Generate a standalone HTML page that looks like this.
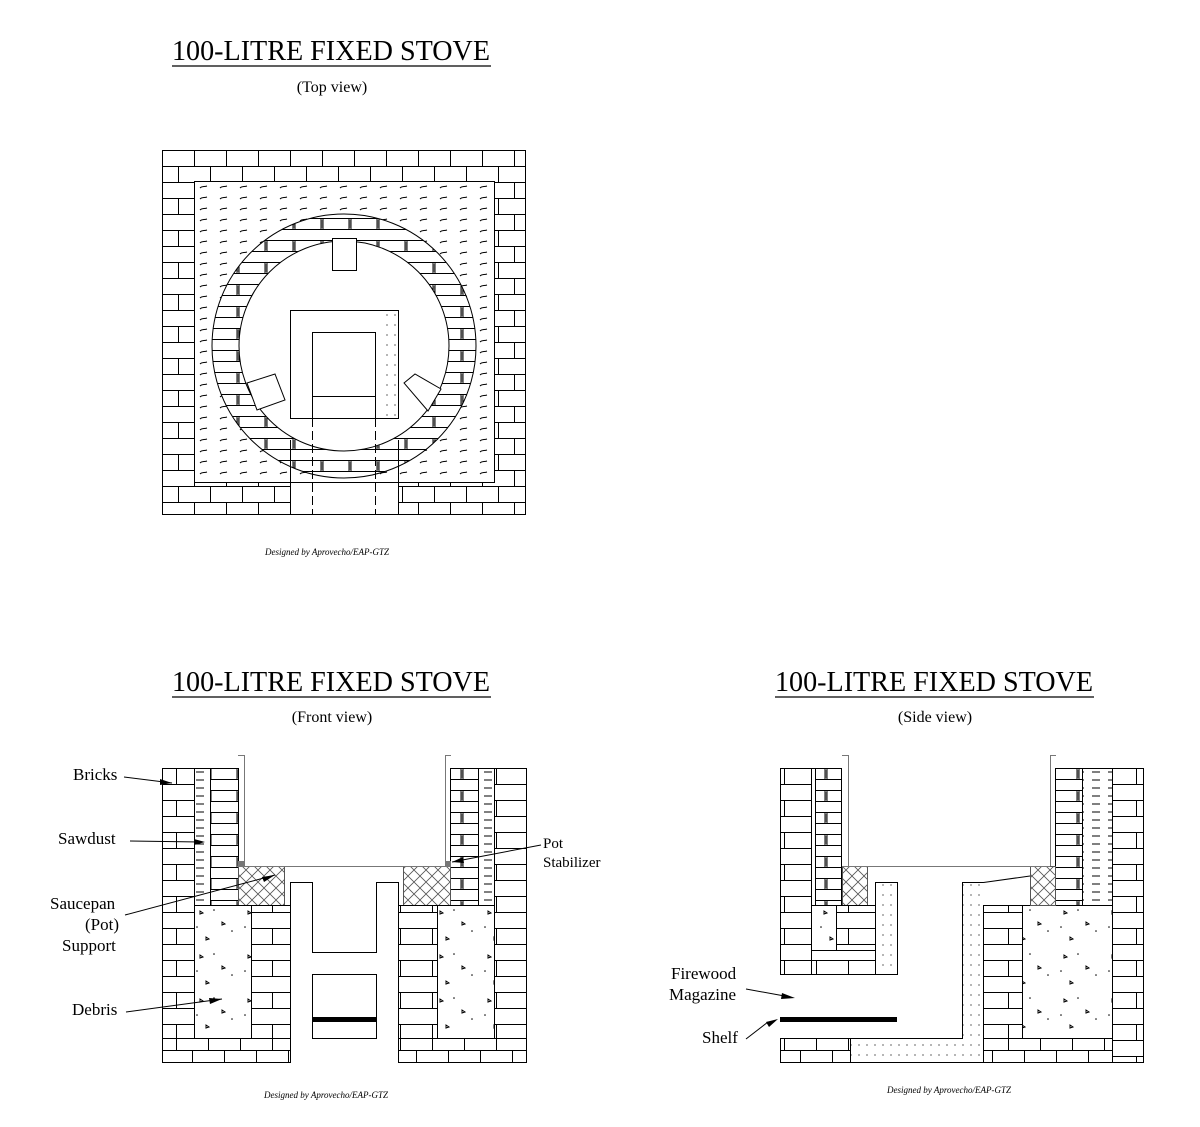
<!DOCTYPE html>
<html><head><meta charset="utf-8"><style>
html,body{margin:0;padding:0;background:#fff;}
svg{display:block;font-family:"Liberation Serif",serif;}
</style></head><body>
<svg width="1200" height="1127" viewBox="0 0 1200 1127" xmlns="http://www.w3.org/2000/svg">
<defs>
<pattern id="brick" width="32" height="32" patternUnits="userSpaceOnUse" x="162" y="150">
<rect width="32" height="32" fill="#fff"/>
<path d="M0 0.5H32M0 16.5H32M0.5 0V16M16.5 16V32" stroke="#000" stroke-width="1" fill="none"/>
</pattern>
<pattern id="brickv" width="32" height="32" patternUnits="userSpaceOnUse" x="0" y="768">
<rect width="32" height="32" fill="#fff"/>
<path d="M0 0.5H32M0 16.5H32M16.5 0V16" stroke="#000" fill="none"/>
</pattern>
<pattern id="brickb" width="32" height="24" patternUnits="userSpaceOnUse" x="0" y="1038">
<rect width="32" height="24" fill="#fff"/>
<path d="M0 12.5H32M16.5 0V12M0.5 12V24" stroke="#000" fill="none"/>
</pattern>
<pattern id="brickin" width="28" height="22" patternUnits="userSpaceOnUse" x="0" y="768">
<rect width="28" height="22" fill="#fff"/>
<path d="M0 0.5H28M0 11.5H28" stroke="#000" fill="none"/>
<path d="M13 1V11M15 1V11" stroke="#000" stroke-width="1"/>
<path d="M13 3H15M13 5H15M13 7H15M13 9H15" stroke="#000" stroke-width="0.8"/>
</pattern>
<pattern id="saw" width="20" height="11" patternUnits="userSpaceOnUse" x="194" y="181">
<rect width="20" height="11" fill="#fff"/>
<path d="M6 7C8 5 10 6 13 5" stroke="#000" fill="none" stroke-width="1"/>
</pattern>
<pattern id="sawv" width="16" height="8" patternUnits="userSpaceOnUse" x="0" y="768">
<rect width="16" height="8" fill="#fff"/>
<path d="M4 4H12" stroke="#000" stroke-width="1"/>
</pattern>
<pattern id="debris" width="48" height="44" patternUnits="userSpaceOnUse" x="0" y="905">
<rect width="48" height="44" fill="#fff"/>
<path d="M8 6l3 2-3 1z M30 17l3 2-3 1z M14 32l3 2-3 1z" fill="none" stroke="#000" stroke-width="1"/>
<circle cx="22" cy="5" r="0.8"/><circle cx="40" cy="26" r="0.8"/><circle cx="5" cy="22" r="0.8"/>
</pattern>
<pattern id="hatch" width="12" height="12" patternUnits="userSpaceOnUse">
<rect width="12" height="12" fill="#fff"/>
<path d="M0 0L12 12M12 0L0 12" stroke="#555" stroke-width="0.8"/>
</pattern>
<pattern id="dots" width="8" height="10" patternUnits="userSpaceOnUse">
<rect width="8" height="10" fill="#fff"/><circle cx="3" cy="5" r="0.6" fill="#000"/>
</pattern>
</defs>

<g font-size="28">
<text x="172" y="60" textLength="318" lengthAdjust="spacingAndGlyphs">100-LITRE FIXED STOVE</text>
<text x="172" y="691" textLength="318" lengthAdjust="spacingAndGlyphs">100-LITRE FIXED STOVE</text>
<text x="775" y="691" textLength="318" lengthAdjust="spacingAndGlyphs">100-LITRE FIXED STOVE</text>
</g>
<g stroke="#000" stroke-width="1.2">
<line x1="172" y1="66" x2="491" y2="66"/>
<line x1="172" y1="697" x2="491" y2="697"/>
<line x1="775" y1="697" x2="1094" y2="697"/>
</g>
<g font-size="16" text-anchor="middle">
<text x="332" y="92">(Top view)</text>
<text x="332" y="722">(Front view)</text>
<text x="935" y="722">(Side view)</text>
</g>
<g font-size="9" font-style="italic" text-anchor="middle">
<text x="327" y="555">Designed by Aprovecho/EAP-GTZ</text>
<text x="326" y="1098">Designed by Aprovecho/EAP-GTZ</text>
<text x="949" y="1093">Designed by Aprovecho/EAP-GTZ</text>
</g>

<!-- Top view -->
<g stroke="#000" stroke-width="1" fill="none">
<rect x="162.5" y="150.5" width="363" height="364" fill="url(#brick)"/>
<rect x="194.5" y="181.5" width="300" height="301" fill="url(#saw)"/>
<circle cx="344" cy="346" r="132" fill="url(#brickin)"/>
<circle cx="344" cy="346" r="105" fill="#fff"/>
<rect x="290.5" y="483" width="108" height="31" fill="#fff" stroke="none"/>
<line x1="290.5" y1="440" x2="290.5" y2="514"/>
<line x1="398.5" y1="440" x2="398.5" y2="514"/>
<rect x="332.5" y="238.5" width="24" height="32" fill="#fff"/>
<rect x="290.5" y="310.5" width="108" height="108" fill="#fff"/>
<rect x="380" y="312" width="16" height="104" fill="url(#dots)" stroke="none"/>
<rect x="312.5" y="332.5" width="63" height="64"/>
<line x1="312.5" y1="396" x2="312.5" y2="418"/>
<line x1="375.5" y1="396" x2="375.5" y2="418"/>
<line x1="312.5" y1="418" x2="312.5" y2="514" stroke-dasharray="9,4"/>
<line x1="375.5" y1="418" x2="375.5" y2="514" stroke-dasharray="9,4"/>
<polygon points="247,383 275,374 285,400 257,410" fill="#fff"/>
<polygon points="404,383 415,374 441,389 428,411" fill="#fff"/>
</g>

<!-- Front view -->
<g stroke="#000" stroke-width="1" fill="none">
<rect x="162.5" y="768.5" width="32" height="270" fill="url(#brickv)"/>
<rect x="494.5" y="768.5" width="32" height="270" fill="url(#brickv)"/>
<rect x="194.5" y="768.5" width="16" height="137" fill="url(#sawv)"/>
<rect x="478.5" y="768.5" width="16" height="137" fill="url(#sawv)"/>
<rect x="210.5" y="768.5" width="28" height="137" fill="url(#brickin)"/>
<rect x="450.5" y="768.5" width="28" height="137" fill="url(#brickin)"/>
<rect x="238.5" y="866.5" width="46" height="39" fill="url(#hatch)" stroke="#555"/>
<rect x="403.5" y="866.5" width="47" height="39" fill="url(#hatch)" stroke="#555"/>
<rect x="194.5" y="905.5" width="57" height="133" fill="url(#debris)"/>
<rect x="437.5" y="905.5" width="57" height="133" fill="url(#debris)"/>
<rect x="251.5" y="905.5" width="39" height="133" fill="url(#brickv)"/>
<rect x="398.5" y="905.5" width="39" height="133" fill="url(#brickv)"/>
<rect x="162.5" y="1038.5" width="128" height="24" fill="url(#brickb)"/>
<rect x="398.5" y="1038.5" width="128" height="24" fill="url(#brickb)"/>
<path d="M290.5 1062V882.5H312.5V952.5H376.5V882.5H398.5V1062" fill="#fff"/>
<rect x="312.5" y="974.5" width="64" height="64" fill="#fff"/>
<rect x="313" y="1017" width="63" height="5" fill="#000" stroke="none"/>
<line x1="238" y1="866.5" x2="450" y2="866.5" stroke="#777"/>
<path d="M238 755.5H244.5V866" stroke="#777"/>
<path d="M451 755.5H445.5V866" stroke="#777"/>
<rect x="238" y="861" width="6" height="6" fill="#777" stroke="none"/>
<rect x="445" y="861" width="6" height="6" fill="#777" stroke="none"/>
<line x1="124" y1="777" x2="172" y2="783"/>
<line x1="130" y1="841" x2="200" y2="842"/>
<line x1="125" y1="915" x2="275" y2="875"/>
<line x1="126" y1="1012" x2="222" y2="999"/>
<line x1="541" y1="845" x2="452" y2="862"/>
</g>
<g fill="#000">
<polygon points="172,783 160,779 160,785"/>
<polygon points="205,842 194,839 194,845"/>
<polygon points="275,875 262,877 264,882"/>
<polygon points="222,999 209,998 210,1004"/>
<polygon points="452,862 463,857 464,863"/>
</g>
<g font-size="17">
<text x="73" y="780">Bricks</text>
<text x="58" y="844">Sawdust</text>
<text x="50" y="909">Saucepan</text>
<text x="85" y="930">(Pot)</text>
<text x="62" y="951">Support</text>
<text x="72" y="1015">Debris</text>
<text x="543" y="848" font-size="15">Pot</text>
<text x="543" y="867" font-size="15">Stabilizer</text>
</g>

<!-- Side view -->
<g stroke="#000" stroke-width="1" fill="none">
<rect x="780.5" y="768.5" width="31" height="206" fill="url(#brickv)"/>
<rect x="811.5" y="768.5" width="4" height="137" fill="#fff"/>
<rect x="815.5" y="768.5" width="26" height="137" fill="url(#brickin)"/>
<rect x="842.5" y="866.5" width="25" height="39" fill="url(#hatch)" stroke="#555"/>
<rect x="811.5" y="905.5" width="25" height="45" fill="url(#debris)"/>
<rect x="836.5" y="905.5" width="39" height="45" fill="url(#brickv)"/>
<rect x="811.5" y="950.5" width="64" height="24" fill="url(#brickv)"/>
<rect x="875.5" y="882.5" width="22" height="92" fill="url(#dots)"/>
<rect x="780" y="1017" width="117" height="5" fill="#000" stroke="none"/>
<rect x="780.5" y="1038.5" width="70" height="24" fill="url(#brickb)"/>
<rect x="963" y="883" width="20" height="155" fill="url(#dots)" stroke="none"/>
<rect x="851" y="1039" width="132" height="23" fill="url(#dots)" stroke="none"/>
<path d="M850.5 1038.5H962.5V882.5H983.5" fill="none"/>
<line x1="850.5" y1="1062.5" x2="983.5" y2="1062.5"/>
<rect x="983.5" y="905.5" width="39" height="133" fill="url(#brickv)"/>
<rect x="983.5" y="1038.5" width="129" height="24" fill="url(#brickb)"/>
<rect x="1022.5" y="905.5" width="90" height="133" fill="url(#debris)"/>
<rect x="1112.5" y="768.5" width="31" height="294" fill="url(#brickv)"/>
<rect x="1082.5" y="768.5" width="30" height="137" fill="url(#sawv)"/>
<rect x="1055.5" y="768.5" width="27" height="137" fill="url(#brickin)"/>
<rect x="1030.5" y="866.5" width="25" height="39" fill="url(#hatch)" stroke="#555"/>
<path d="M983.5 882.5L1030 876M983 905.5H1030" />
<line x1="842" y1="866.5" x2="1050" y2="866.5" stroke="#777"/>
<path d="M842 755.5H848.5V866" stroke="#777"/>
<path d="M1056 755.5H1050.5V866" stroke="#777"/>
<line x1="746" y1="989" x2="790" y2="997"/>
<line x1="746" y1="1039" x2="768" y2="1022"/>
</g>
<g fill="#000">
<polygon points="795,998 782,993 781,999"/>
<polygon points="778,1019 766,1022 769,1027"/>
</g>
<g font-size="17">
<text x="671" y="979">Firewood</text>
<text x="669" y="1000">Magazine</text>
<text x="702" y="1043">Shelf</text>
</g>
</svg>
</body></html>
